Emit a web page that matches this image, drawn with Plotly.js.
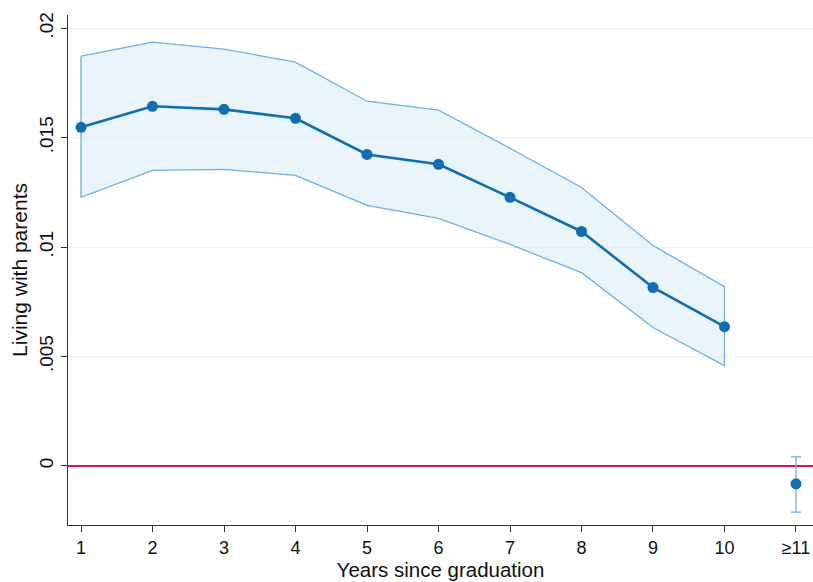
<!DOCTYPE html>
<html>
<head>
<meta charset="utf-8">
<script src="https://cdn.plot.ly/plotly-3.0.1.min.js"></script>
<style>html,body{margin:0;padding:0;background:#fff;}#chart{width:813px;height:582px;}</style>
</head>
<body>
<div id="chart"></div>
<script>
// Data
const years = [1, 2, 3, 4, 5, 6, 7, 8, 9, 10];
const estimate = [0.01547, 0.01643, 0.01629, 0.01588, 0.01423, 0.01378, 0.01227, 0.01071, 0.00815, 0.00636];
const upperCI = [0.01872, 0.01936, 0.01904, 0.01845, 0.01666, 0.01625, 0.01451, 0.01272, 0.01007, 0.00819];
const lowerCI = [0.01227, 0.01350, 0.01355, 0.01327, 0.01190, 0.01131, 0.01012, 0.00883, 0.00632, 0.00458];
const lastX = [11];
const lastEstimate = [-0.00082];
const lastUpper = [0.00041];
const lastLower = [-0.00211];
const xTickVals = [1, 2, 3, 4, 5, 6, 7, 8, 9, 10, 11];
const xTickText = ["1", "2", "3", "4", "5", "6", "7", "8", "9", "10", "≥11"];
const yTickVals = [0, 0.005, 0.01, 0.015, 0.02];
const yTickText = ["0", ".005", ".01", ".015", ".02"];

const lineBlue = "#0f6db3";
const ciBlue = "#6fb0de";
const fillBlue = "rgba(215,235,248,0.55)";

const bandX = years.concat(years.slice().reverse(), [years[0]]);
const bandY = upperCI.concat(lowerCI.slice().reverse(), [upperCI[0]]);

const traces = [
  {
    x: bandX, y: bandY, type: "scatter", mode: "lines",
    fill: "toself", fillcolor: fillBlue,
    line: {color: ciBlue, width: 1.3},
    hoverinfo: "skip", showlegend: false
  },
  {
    x: years, y: estimate, type: "scatter", mode: "lines+markers",
    line: {color: lineBlue, width: 2.6},
    marker: {color: lineBlue, size: 11},
    showlegend: false
  },
  {
    x: lastX, y: lastEstimate, type: "scatter", mode: "markers",
    marker: {color: lineBlue, size: 11},
    error_y: {
      type: "data", symmetric: false,
      array: lastUpper.map((u, i) => u - lastEstimate[i]),
      arrayminus: lastLower.map((l, i) => lastEstimate[i] - l),
      color: ciBlue, thickness: 1.3, width: 5
    },
    showlegend: false
  }
];

const fontFam = "Liberation Sans, Arial, sans-serif";
const layout = {
  width: 813, height: 582,
  margin: {l: 68, r: 0, t: 15, b: 57},
  paper_bgcolor: "#fff", plot_bgcolor: "#fff",
  font: {family: fontFam, color: "#111"},
  xaxis: {
    range: [0.818, 11.238],
    tickvals: xTickVals, ticktext: xTickText,
    ticks: "outside", ticklen: 6, tickcolor: "#333", tickwidth: 1,
    showline: true, linecolor: "#333", linewidth: 1.3,
    showgrid: false, zeroline: false,
    tickfont: {size: 18, family: fontFam, color: "#111"},
    title: {text: "Years since graduation", font: {size: 20.5, family: fontFam, color: "#111"}, standoff: 3}
  },
  yaxis: {
    range: [-0.0027, 0.0206],
    tickvals: yTickVals, ticktext: yTickText,
    tickangle: -90,
    ticks: "outside", ticklen: 6, tickcolor: "#333", tickwidth: 1,
    showline: true, linecolor: "#333", linewidth: 1.3,
    showgrid: true, gridcolor: "#f0f0f0", gridwidth: 1,
    zeroline: true, zerolinecolor: "#d11a4e", zerolinewidth: 1.6,
    tickfont: {size: 19, family: fontFam, color: "#111"},
    title: {text: "Living with parents", font: {size: 21, family: fontFam, color: "#111"}, standoff: 2}
  }
};

Plotly.newPlot("chart", traces, layout, {displayModeBar: false, staticPlot: true});
</script>
</body>
</html>
